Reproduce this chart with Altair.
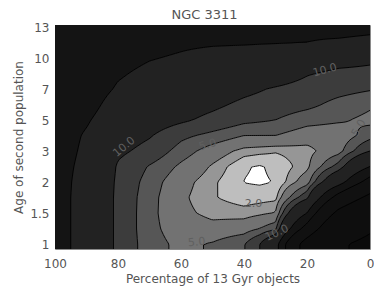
import numpy as np
import pandas as pd
import altair as alt

TITLE = "NGC 3311"
X_TITLE = "Percentage of 13 Gyr objects"
Y_TITLE = "Age of second population"

# grid: columns = percentage of 13 Gyr objects,
# rows = position on the age axis (index of the age ticks, top row first)
pct = [100, 90, 80, 70, 60, 50, 40, 35, 30, 20, 10, 0]
age_rows = [7, 6.5, 6, 5.5, 5, 4.5, 4, 3.5, 3, 2.5, 2, 1.5, 1, 0.5, 0]
age_tick_labels = ["1", "1.5", "2", "3", "5", "7", "10", "13"]
x_ticks = [100, 80, 60, 40, 20, 0]

col_100 = [26, 26, 26, 26, 26, 25.5, 25, 25, 25, 24.5, 24.5, 24, 24, 24, 24]
col_90 = [28, 27, 27, 26, 25, 23.5, 21, 19, 18, 17, 16, 16, 16, 16, 16]
col_80 = [27, 26, 23, 21, 19, 16, 14, 12, 10.8, 9.5, 9.2, 9, 9, 9, 9]
col_70 = [26, 23, 20.5, 18, 16, 14, 12, 10.3, 8.8, 6.8, 6.0, 5.7, 5.6, 5.6, 5.8]
col_60 = [24, 21.5, 19, 16, 14, 12, 10.6, 7.6, 6, 4.6, 3.6, 3.3, 3.4, 3.9, 4.5]
col_50 = [23, 21, 17, 14.5, 12.5, 10.8, 9, 6.3, 4.0, 2.8, 2.2, 2.1, 2.6, 3.5, 5.2]
col_40 = [22, 20.8, 16, 13.5, 11, 9.2, 7.6, 5, 2.5, 1.1, 0.98, 1.5, 2.4, 4, 6.8]
col_35 = [21.5, 20.5, 16, 13, 10.3, 8.7, 7.3, 5, 2.3, 0.9, 0.85, 1.6, 2.7, 5, 10]
col_30 = [21, 20.3, 16, 12.5, 9.6, 8.2, 7, 5, 2.1, 1.25, 1.05, 1.7, 3.1, 6.3, 16]
col_20 = [22, 20, 14, 10.3, 8.5, 7.6, 5.8, 3.8, 2.5, 2.6, 4.0, 9, 20, 35, 60]
col_10 = [24, 18.5, 12, 9.0, 7.8, 6.3, 5.3, 3.6, 4.2, 8, 16, 35, 55, 75, 95]
col_0 = [23, 17, 11, 8.8, 7.2, 5.3, 4.5, 6.0, 10, 20, 35, 55, 75, 95, 110]

levels = [1, 2, 3, 5, 7, 10, 20, 30, 50, 100]
band_grays = ["#ffffff", "#bebebe", "#969696", "#727272", "#565656", "#3c3c3c",
              "#222222", "#141414", "#111111", "#0e0e0e", "#0b0b0b"]

label_text = ["10.0", "5.0", "2.0", "5.0", "10.0", "5.0", "10.0"]
label_pct = [78, 51.5, 37, 55, 14.3, 3.5, 29.5]
label_age = [3.13, 3.19, 1.29, 0.05, 5.6, 3.74, 0.35]
label_angle = [320, 345, 0, 355, 345, 300, 335]

X_DOMAIN = [0, 100]
Y_DOMAIN = [-0.16, 7.065]

# ---------------------------------------------------------------- field
Z = np.array([col_100, col_90, col_80, col_70, col_60, col_50, col_40, col_35,
              col_30, col_20, col_10, col_0], dtype=float).T  # rows x cols
px_asc = np.array(pct[::-1], dtype=float)
ay_asc = np.array(age_rows[::-1], dtype=float)
Z_asc = Z[::-1, ::-1]


def field(xq, yq):
    zx = np.array([np.interp(xq, px_asc, Z_asc[r]) for r in range(Z_asc.shape[0])])
    return np.array([np.interp(yq, ay_asc, zx[:, c]) for c in range(zx.shape[1])]).T


# filled bands as horizontal runs of cells
NX, NY = 315, 224
xe = np.linspace(X_DOMAIN[0], X_DOMAIN[1], NX + 1)
ye = np.linspace(Y_DOMAIN[0], Y_DOMAIN[1], NY + 1)
xc = 0.5 * (xe[:-1] + xe[1:])
yc = 0.5 * (ye[:-1] + ye[1:])
V = field(xc, yc)
B = np.searchsorted(levels, V, side="right")
ox = (xe[1] - xe[0]) * 0.8
oy = (ye[1] - ye[0]) * 0.8
rects = []
for j in range(NY):
    row = B[j]
    start = 0
    for i in range(1, NX + 1):
        if i == NX or row[i] != row[start]:
            rects.append({"x": xe[start], "x2": min(xe[i] + ox, 100.0),
                          "y": ye[j], "y2": min(ye[j + 1] + oy, Y_DOMAIN[1]),
                          "c": band_grays[row[start]]})
            start = i
rect_df = pd.DataFrame(rects)

# contour lines (marching squares)
LX, LY = 158, 113
xs = np.linspace(X_DOMAIN[0], X_DOMAIN[1], LX)
ys = np.linspace(Y_DOMAIN[0], Y_DOMAIN[1], LY)
W = field(xs, ys)
segs = []
for L in levels:
    for j in range(LY - 1):
        for i in range(LX - 1):
            v = [W[j, i], W[j, i + 1], W[j + 1, i + 1], W[j + 1, i]]
            if not (min(v) < L < max(v)):
                continue
            P = [(xs[i], ys[j]), (xs[i + 1], ys[j]), (xs[i + 1], ys[j + 1]), (xs[i], ys[j + 1])]
            pts = []
            for k in range(4):
                a, b = v[k], v[(k + 1) % 4]
                if (a - L) * (b - L) < 0:
                    t = (L - a) / (b - a)
                    pa, pb = P[k], P[(k + 1) % 4]
                    pts.append((pa[0] + t * (pb[0] - pa[0]), pa[1] + t * (pb[1] - pa[1])))
            if len(pts) >= 2:
                segs.append({"x": pts[0][0], "y": pts[0][1], "x2": pts[1][0], "y2": pts[1][1]})
            if len(pts) == 4:
                segs.append({"x": pts[2][0], "y": pts[2][1], "x2": pts[3][0], "y2": pts[3][1]})
seg_df = pd.DataFrame(segs)

lab_df = pd.DataFrame({"t": label_text, "x": label_pct, "y": label_age, "ang": label_angle})

# ---------------------------------------------------------------- chart
FONT = "DejaVu Sans"
GRAY = "#555555"
xscale = alt.Scale(domain=X_DOMAIN, reverse=True, nice=False, zero=False)
yscale = alt.Scale(domain=Y_DOMAIN, nice=False, zero=False)

label_expr = " : ".join(
    f"datum.value == {k} ? '{s}'" for k, s in enumerate(age_tick_labels)) + " : ''"

x_axis = alt.Axis(values=x_ticks, title=X_TITLE, ticks=False, domain=False, grid=False,
                  labelFlush=False, labelOverlap=False, labelPadding=9, titlePadding=4)
y_axis = alt.Axis(values=list(range(len(age_tick_labels))), labelExpr=label_expr,
                  title=Y_TITLE, ticks=False, domain=False, grid=False,
                  labelFlush=False, labelOverlap=False, labelPadding=6, titlePadding=4)

X = alt.X("x:Q", scale=xscale, axis=x_axis)
Y = alt.Y("y:Q", scale=yscale, axis=y_axis)

fill = alt.Chart(rect_df).mark_rect(clip=True).encode(
    x=X, x2="x2:Q", y=Y, y2="y2:Q",
    color=alt.Color("c:N", scale=None),
)

lines = alt.Chart(seg_df).mark_rule(color="#000000", strokeWidth=0.9, clip=True).encode(
    x=X, x2="x2:Q", y=Y, y2="y2:Q",
)

labels = alt.Chart(lab_df).mark_text(font=FONT, fontSize=11, color="#606060").encode(
    x=X, y=Y,
    text="t:N",
    angle=alt.Angle("ang:Q", scale=None),
)

chart = alt.layer(fill, lines, labels).properties(
    width=315, height=224,
    title=alt.TitleParams(TITLE, font=FONT, fontSize=13, fontWeight="normal",
                          color=GRAY, offset=4, dy=5, dx=-8, anchor="middle"),
    autosize=alt.AutoSizeParams(type="none"),
    padding={"left": 47, "top": 17, "right": 4, "bottom": 37},
    background="white",
).configure_view(stroke="#8a8a8a", strokeWidth=1).configure_axis(
    labelFont=FONT, labelFontSize=12, labelColor=GRAY,
    titleFont=FONT, titleFontSize=12, titleFontWeight="normal", titleColor=GRAY,
)

chart.save("out.html", embed_options={"renderer": "svg", "actions": False})
